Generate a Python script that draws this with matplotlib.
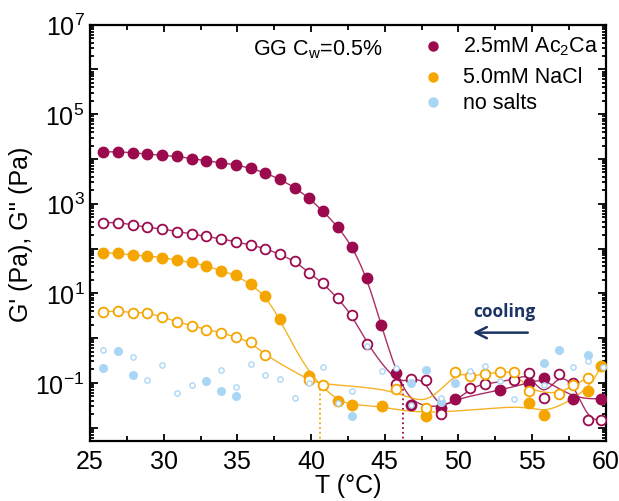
import numpy as np
import matplotlib
matplotlib.use('Agg')
from matplotlib import pyplot as plt
from matplotlib.ticker import MultipleLocator, LogLocator, FuncFormatter, NullFormatter

plt.rcParams['font.family'] = ['Liberation Sans', 'DejaVu Sans']
plt.rcParams['mathtext.fontset'] = 'custom'
plt.rcParams['mathtext.rm'] = 'Liberation Sans'
plt.rcParams['mathtext.it'] = 'Liberation Sans:italic'

# 2.5 mM Ac2Ca
ca_T1 = [25.9, 26.9, 27.9, 28.9, 29.9, 30.9, 31.9, 32.9, 33.9, 34.9, 35.9, 36.9,
         37.9, 38.9, 39.85, 40.8, 41.85, 42.8, 43.8, 44.75, 45.8, 46.8, 48.8,
         49.8, 52.8, 54.8, 55.8, 57.8, 59.7]
ca_G1 = [1.45e4, 1.45e4, 1.38e4, 1.29e4, 1.2e4, 1.15e4, 1.02e4, 9.1e3, 8.3e3,
         7.4e3, 6.2e3, 4.9e3, 3.5e3, 2.3e3, 1.35e3, 690, 300, 110, 22, 2.0,
         0.166, 0.032, 0.0275, 0.044, 0.068, 0.10, 0.129, 0.044, 0.044]
ca_T2 = [25.9, 26.9, 27.9, 28.9, 29.9, 30.9, 31.9, 32.9, 33.9, 34.9, 35.9, 36.9,
         37.9, 38.9, 39.85, 40.8, 41.8, 42.8, 43.8, 45.8, 46.8, 47.8, 48.8,
         50.8, 51.8, 53.8, 54.8, 55.8, 56.8, 57.8, 58.8, 59.7]
ca_G2 = [380, 380, 340, 295, 275, 240, 214, 186, 166, 141, 120, 100, 74, 52, 29,
         17, 7.8, 3.2, 0.74, 0.095, 0.123, 0.117, 0.020, 0.078, 0.095, 0.117,
         0.166, 0.046, 0.155, 0.10, 0.015, 0.0148]

# 5.0 mM NaCl
na_T1 = [25.9, 26.9, 27.9, 28.9, 29.9, 30.9, 31.9, 32.9, 33.9, 34.9, 35.9, 36.9,
         37.9, 39.85, 41.8, 42.8, 44.8, 47.8, 54.8, 55.8, 58.8, 59.7]
na_G1 = [81, 78, 71, 68, 63, 55, 49, 41, 32, 25, 16, 8.7, 2.6, 0.145, 0.040,
         0.032, 0.030, 0.0186, 0.035, 0.019, 0.065, 0.24]
na_T2 = [25.9, 26.9, 27.9, 28.9, 29.9, 30.9, 31.9, 32.9, 33.9, 34.9, 35.9, 36.9,
         39.85, 40.8, 45.8, 47.8, 49.8, 50.8, 51.8, 52.8, 53.8, 54.8, 56.8,
         57.8, 58.8]
na_G2 = [3.9, 4.0, 3.7, 3.7, 2.95, 2.3, 1.9, 1.55, 1.32, 1.05, 0.81, 0.41,
         0.115, 0.091, 0.074, 0.027, 0.178, 0.141, 0.155, 0.178, 0.178, 0.066,
         0.055, 0.089, 0.129]

# no salts
ns_T1 = [25.9, 26.9, 27.9, 32.9, 33.9, 34.9, 42.8, 46.8, 47.8, 48.8, 49.8,
         55.8, 56.8, 58.8]
ns_G1 = [0.21, 0.52, 0.15, 0.11, 0.065, 0.052, 0.018, 0.10, 0.19, 0.038, 0.10,
         0.28, 0.54, 0.41]
ns_T2 = [25.9, 27.9, 28.9, 29.9, 30.9, 31.9, 33.9, 34.9, 35.9, 36.9, 37.9,
         38.9, 39.85, 40.8, 41.8, 42.8, 43.8, 44.8, 45.8, 46.8, 48.8, 50.8,
         51.8, 52.8, 53.8, 55.8, 57.8, 58.8, 59.8]
ns_G2 = [0.55, 0.37, 0.115, 0.245, 0.058, 0.089, 0.19, 0.079, 0.26, 0.148,
         0.123, 0.046, 0.10, 0.22, 0.035, 0.066, 0.66, 0.18, 0.21, 0.032, 0.045,
         0.18, 0.24, 0.11, 0.044, 0.091, 0.22, 0.30, 0.22]

# gel points (T, G at crossover)
gel_T = [40.6, 46.25]
gel_G = [0.085, 0.11]

crimson = '#9a0a4c'
orange = '#f5a500'
lightblue = '#aad6f6'
navy = '#1c3464'


def bspline(x, y, n=20):
    # uniform cubic B-spline through log-values, ends clamped
    x = np.asarray(x, float)
    y = np.log10(np.asarray(y, float))
    px = np.r_[x[0], x[0], x, x[-1], x[-1]]
    py = np.r_[y[0], y[0], y, y[-1], y[-1]]
    t = np.linspace(0, 1, n)
    b = [(1 - t) ** 3 / 6, (3 * t ** 3 - 6 * t ** 2 + 4) / 6,
         (-3 * t ** 3 + 3 * t ** 2 + 3 * t + 1) / 6, t ** 3 / 6]
    xs, ys = [], []
    for i in range(len(px) - 3):
        xs.append(sum(b[k] * px[i + k] for k in range(4)))
        ys.append(sum(b[k] * py[i + k] for k in range(4)))
    return np.concatenate(xs), 10 ** np.concatenate(ys)


fig = plt.figure(figsize=(6.19, 5.02), dpi=100)
ax = fig.add_axes([0.1454, 0.1195, 0.8331, 0.8293])

for T, G, c in [(ca_T1, ca_G1, crimson), (ca_T2, ca_G2, crimson),
                (na_T1, na_G1, orange), (na_T2, na_G2, orange)]:
    xs, ys = bspline(T, G)
    ax.plot(xs, ys, color=c, lw=1.0, alpha=0.85, zorder=2)

ax.plot(ca_T1, ca_G1, 'o', color=crimson, ms=7.5, zorder=3)
ax.plot(ca_T2, ca_G2, 'o', mfc='white', mec=crimson, mew=1.3, ms=7, zorder=3)
ax.plot(na_T1, na_G1, 'o', color=orange, ms=7.5, zorder=3)
ax.plot(na_T2, na_G2, 'o', mfc='white', mec=orange, mew=1.3, ms=7, zorder=3)
ax.plot(ns_T1, ns_G1, 'o', color=lightblue, ms=5.5, zorder=4)
ax.plot(ns_T2, ns_G2, 'o', mfc='white', mec=lightblue, mew=1.0, ms=3.8, zorder=4)

ax.vlines(gel_T[0], 1e-3, gel_G[0], colors=orange, linestyles=':', lw=1.3, zorder=1)
ax.vlines(gel_T[1], 1e-3, gel_G[1], colors=crimson, linestyles=':', lw=1.3, zorder=1)

ax.set_xlim(25, 60)
ax.set_yscale('log')
ax.set_ylim(10 ** -2.3, 1e7)

ax.xaxis.set_major_locator(MultipleLocator(5))
ax.xaxis.set_minor_locator(MultipleLocator(2.5))
ax.yaxis.set_major_locator(LogLocator(base=10, numticks=20))
ax.yaxis.set_minor_locator(LogLocator(base=10, subs=np.arange(2, 10), numticks=20))
ax.yaxis.set_minor_formatter(NullFormatter())


def ylab(v, pos):
    e = int(round(np.log10(v)))
    if e % 2 == 0 or e < -1:
        return ''
    return r'$10^{%d}$' % e


ax.yaxis.set_major_formatter(FuncFormatter(ylab))
ax.tick_params(which='both', direction='in', top=True, right=True, width=1.3,
               labelsize=18)
ax.tick_params(axis='x', which='major', length=5, pad=6)
ax.tick_params(axis='x', which='minor', length=3.5)
ax.tick_params(axis='y', which='major', length=6, pad=4)
ax.tick_params(axis='y', which='minor', length=3)
for s in ax.spines.values():
    s.set_linewidth(1.6)

ax.set_xlabel('T (\u00b0C)', fontsize=18, labelpad=0)
ax.set_ylabel("G' (Pa), G'' (Pa)", fontsize=18, labelpad=2)

ax.text(0.316, 0.942, r'GG C$_\mathrm{w}$=0.5%', transform=ax.transAxes,
        fontsize=15.5, va='center', ha='left')

leg_labels = ['2.5mM Ac$_2$Ca', '5.0mM NaCl', 'no salts']
leg_colors = [crimson, orange, lightblue]
leg_y = [0.9496, 0.875, 0.8136]
for lab, c, y in zip(leg_labels, leg_colors, leg_y):
    ax.plot([0.665], [y], 'o', color=c, ms=6.5, transform=ax.transAxes,
            clip_on=False)
    ax.text(0.724, y, lab, transform=ax.transAxes, fontsize=15.5, va='center',
            ha='left')

ax.text(53.1, 4.0, 'cooling', color=navy, fontsize=12.5, fontweight='bold',
        family=['Open Sans', 'DejaVu Sans'], ha='center', va='center')
ax.annotate('', xy=(50.8, 1.32), xytext=(54.9, 1.32),
            arrowprops=dict(arrowstyle='->', color=navy, lw=1.8,
                            mutation_scale=20))

fig.savefig('out.png', dpi=100)
